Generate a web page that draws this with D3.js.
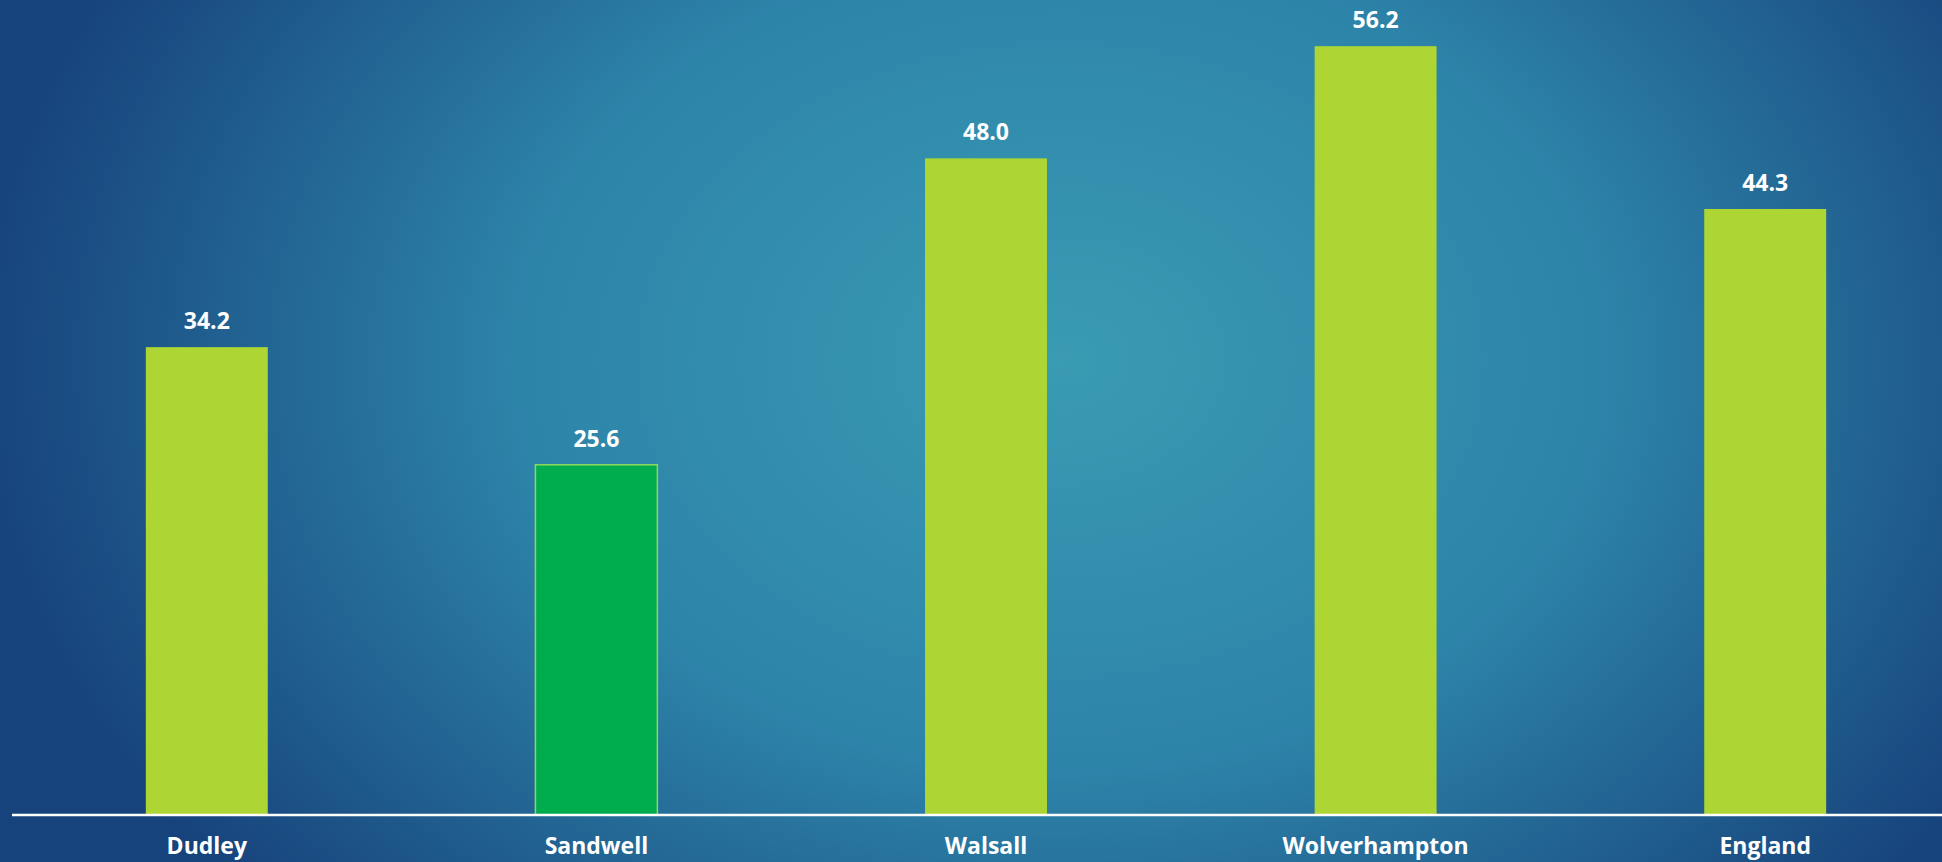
<!DOCTYPE html>
<html>
<head>
<meta charset="utf-8">
<script src="https://cdn.jsdelivr.net/npm/d3@7"></script>
<style>
  html, body { margin: 0; padding: 0; overflow: hidden; }
</style>
</head>
<body>
<script>
// Datos del gráfico
const categorias = ["Dudley", "Sandwell", "Walsall", "Wolverhampton", "England"];
const valores = [34.2, 25.6, 48.0, 56.2, 44.3];
const destacado = "Sandwell";

const WIDTH = 1942;
const HEIGHT = 862;
const BASE_Y = 815;
const FUENTE = "'Open Sans', Lato, 'DejaVu Sans', sans-serif";

const svg = d3.select("body")
  .append("svg")
  .attr("width", WIDTH)
  .attr("height", HEIGHT);

// Fondo con degradado radial
const defs = svg.append("defs");
const grad = defs.append("radialGradient")
  .attr("id", "fondo")
  .attr("gradientUnits", "userSpaceOnUse")
  .attr("cx", 1060)
  .attr("cy", 360)
  .attr("r", 1080)
  .attr("gradientTransform", "translate(1060,360) scale(1,0.75) translate(-1060,-360)");
grad.append("stop").attr("offset", "0").attr("stop-color", "#3a9bb3");
grad.append("stop").attr("offset", "0.5").attr("stop-color", "#2d84a9");
grad.append("stop").attr("offset", "1").attr("stop-color", "#17437c");

svg.append("rect")
  .attr("width", WIDTH)
  .attr("height", HEIGHT)
  .attr("fill", "url(#fondo)");

const datos = categorias.map((c, i) => ({ categoria: c, valor: valores[i] }));

const escalaX = d3.scaleBand()
  .domain(categorias)
  .range([12, 1960])
  .paddingInner(0.687)
  .paddingOuter(0.3435);

const escalaY = d3.scaleLinear()
  .domain([0, 60])
  .range([BASE_Y, BASE_Y - 60 * 13.68]);

const vis = svg.append("g");

vis.selectAll("rect.barra")
  .data(datos)
  .join("rect")
  .attr("class", "barra")
  .attr("x", d => escalaX(d.categoria))
  .attr("width", escalaX.bandwidth())
  .attr("y", d => escalaY(d.valor))
  .attr("height", d => BASE_Y - escalaY(d.valor))
  .attr("fill", d => d.categoria === destacado ? "#00ad4e" : "#add533")
  .attr("stroke", d => d.categoria === destacado ? "#8fd95a" : "none")
  .attr("stroke-width", 1.5);

// Etiquetas de valor
vis.selectAll("text.valor")
  .data(datos)
  .join("text")
  .attr("class", "valor")
  .attr("x", d => escalaX(d.categoria) + escalaX.bandwidth() / 2)
  .attr("y", d => escalaY(d.valor) - 18)
  .attr("text-anchor", "middle")
  .attr("fill", "#ffffff")
  .attr("font-family", FUENTE)
  .attr("font-weight", "bold")
  .attr("font-size", 23)
  .text(d => d.valor.toFixed(1));

// Eje inferior
const ejeX = d3.axisBottom(escalaX).tickSize(0).tickPadding(23);
const contenedorEjeX = svg.append("g")
  .attr("transform", `translate(0, ${BASE_Y})`)
  .call(ejeX);

contenedorEjeX.select(".domain").remove();
contenedorEjeX.append("line")
  .attr("x1", 12)
  .attr("x2", WIDTH)
  .attr("y1", 0)
  .attr("y2", 0)
  .attr("stroke", "#ffffff")
  .attr("stroke-width", 2.5);

contenedorEjeX.selectAll("text")
  .attr("fill", "#ffffff")
  .attr("font-family", FUENTE)
  .attr("font-weight", "bold")
  .attr("font-size", 23);
</script>
</body>
</html>
